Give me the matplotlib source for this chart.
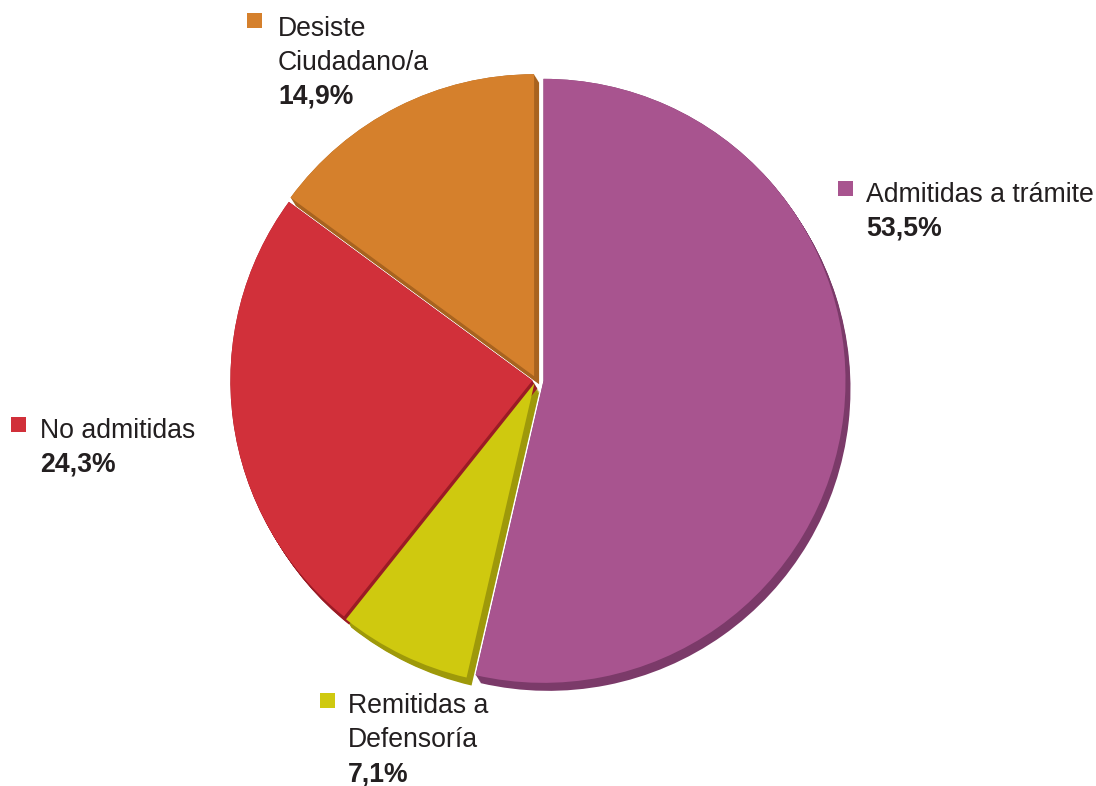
import matplotlib.pyplot as plt
from matplotlib.patches import Wedge, Rectangle
import numpy as np

labels = ['Admitidas a trámite', 'Remitidas a\nDefensoría', 'No admitidas', 'Desiste\nCiudadano/a']
values = [53.5, 7.1, 24.3, 14.9]
pct_text = ['53,5%', '7,1%', '24,3%', '14,9%']
colors = ['#A8548F', '#CFC90F', '#D1303A', '#D5802C']
dark = ['#7B3A69', '#9E990A', '#9A1B25', '#A8631F']
explode = [0.025, 0.012, 0.012, 0.014]

plt.rcParams['font.family'] = ['Liberation Sans', 'DejaVu Sans']

W, H = 1096, 786
fig = plt.figure(figsize=(W / 100, H / 100), dpi=100)
ax = fig.add_axes([0, 0, 1, 1])
ax.set_xlim(0, W)
ax.set_ylim(0, H)
ax.set_aspect('equal')
ax.axis('off')

cx, cy, r = 536, H - 380, 302
depth = (5, -8)

# slice angles, clockwise from top
fracs = np.array(values) / sum(values) * 360
start = 90.0
wedges = []
for i, f in enumerate(fracs):
    t2 = start
    t1 = start - f
    mid = np.deg2rad((t1 + t2) / 2)
    ox = cx + explode[i] * r * np.cos(mid)
    oy = cy + explode[i] * r * np.sin(mid)
    wedges.append((ox, oy, t1, t2))
    start = t1

# extruded side
for i, (ox, oy, t1, t2) in enumerate(wedges):
    for k in np.linspace(0, 1, 10):
        ax.add_patch(Wedge((ox + depth[0] * k, oy + depth[1] * k), r, t1, t2,
                           facecolor=dark[i], edgecolor='none'))
# top faces
for i, (ox, oy, t1, t2) in enumerate(wedges):
    ax.add_patch(Wedge((ox, oy), r, t1, t2, facecolor=colors[i],
                       edgecolor='none'))

# labels: (square x, square top y, text x, first baseline y) in pixels
label_pos = [(838, 181, 866, 202), (320, 693, 348, 713),
             (11, 417, 40, 438), (247, 13, 278, 36)]
line_h = 34
for i, (sx, sy, tx, by) in enumerate(label_pos):
    ax.add_patch(Rectangle((sx, H - sy - 15), 15, 15, facecolor=colors[i],
                           edgecolor='none'))
    lines = labels[i].split('\n')
    for j, ln in enumerate(lines):
        ax.text(tx, H - (by + j * line_h), ln, fontsize=19.2, color='#231F20',
                va='baseline', ha='left')
    ax.text(tx, H - (by + len(lines) * line_h), pct_text[i], fontsize=19.2,
            fontweight='bold', color='#231F20', va='baseline', ha='left')

fig.savefig('out.png', dpi=100)
